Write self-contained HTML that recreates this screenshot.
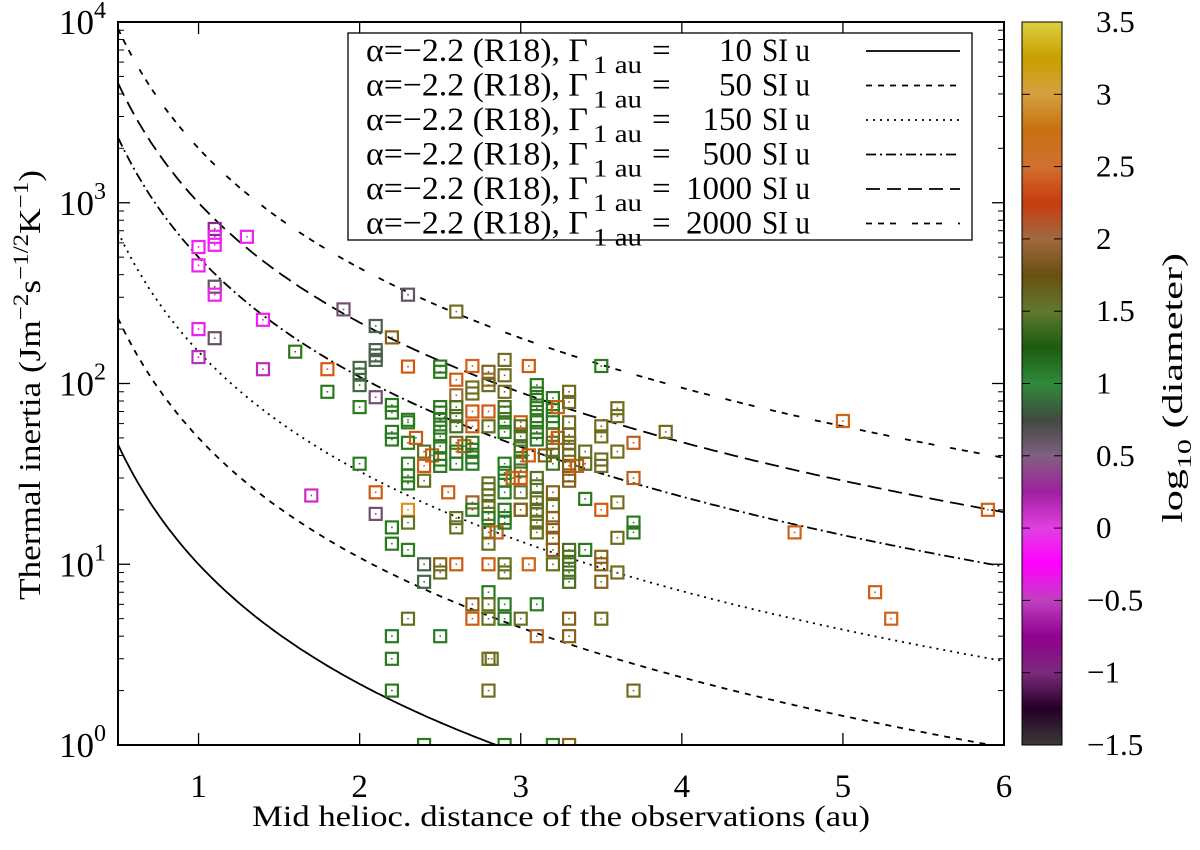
<!DOCTYPE html>
<html><head><meta charset="utf-8"><style>
html,body{margin:0;padding:0;background:#fff;}
svg{display:block;}
svg text{font-family:"Liberation Serif","DejaVu Serif",serif;}
</style></head><body>
<svg id="chart" width="1200" height="850" viewBox="0 0 1200 850" xmlns="http://www.w3.org/2000/svg" font-family="Liberation Serif, serif">
<defs>
<clipPath id="plotclip"><rect x="118" y="22" width="886" height="723"/></clipPath>
<linearGradient id="cbgrad" x1="0" y1="1" x2="0" y2="0"></linearGradient>
</defs>
<g id="curves" clip-path="url(#plotclip)"></g>
<g id="points" clip-path="url(#plotclip)"></g>
<g id="axes"></g>
<g id="legend"></g>
<g id="colorbar"></g>
<text font-family="Liberation Serif, serif" transform="translate(40,385) rotate(-90)" text-anchor="middle" font-size="31" textLength="430" lengthAdjust="spacingAndGlyphs">Thermal inertia (Jm<tspan dy="-12" font-size="22">−2</tspan><tspan dy="12">s</tspan><tspan dy="-12" font-size="22">−1/2</tspan><tspan dy="12">K</tspan><tspan dy="-12" font-size="22">−1</tspan><tspan dy="12">)</tspan></text>
<text font-family="Liberation Serif, serif" x="252" y="826" font-size="30" textLength="618" lengthAdjust="spacingAndGlyphs">Mid helioc. distance of the observations (au)</text>
<text font-family="Liberation Serif, serif" transform="translate(1182,388) rotate(-90)" text-anchor="middle" font-size="28" textLength="270" lengthAdjust="spacingAndGlyphs">log<tspan dy="9" font-size="20">10</tspan><tspan dy="-9"> (diameter)</tspan></text>
</svg>
<script>
// ---- data ----
const distGroups = [1.0,1.1,1.3,1.4,1.6,1.7,1.8,1.9,2.0,2.1,2.2,2.3,2.35,2.4,2.45,2.5,2.55,2.6,2.65,2.7,2.8,2.82,2.85,2.9,2.95,3.0,3.05,3.1,3.15,3.2,3.23,3.3,3.35,3.4,3.5,3.6,3.7,3.9,4.7,5.0,5.2,5.3,5.9];
const inertiaGroups = [
[569,450,200,140],[716,648,585,343,310,178],[648],[225,120],[150],[24],[120,90],[257],
[122,112,98,74,36],[208,153,143,135,84,25,19],[180,76,69,54,49,16,13,4,3,2],
[310,124,63,61,47,36,31,28,20,17,12,5],[50],[42,35,29,10,8,1],[40],
[124,116,74,69,63,57,51,45,38,35,10,9,4],[25],[250,105,86,74,66,58,47,42,36,18,16,10],[45],
[125,95,88,70,58,47,43,39,36,22,20,6,5],
[116,105,98,70,58,28,26,24,21,19,18,15,13,10,7,6,5,3,2],[3],[15],
[135,111,90,74,69,61,54,36,32,29,25,20,18,17,10,9,6,5,1],[30],
[61,58,51,45,42,37,33,30,25,20,20,5],[125,40,10],
[98,88,81,73,66,61,54,49,30,27,23,20,22,19,17,15,6,4],[40],
[83,74,66,61,52,47,43,36,25,21,18,16,14,12,10,1],[74,50],
[90,79,61,52,47,43,40,35,31,29,12,11,10,9,8,5,4,1],[35],[42,36,23,12],
[125,58,51,38,35,20,11,10,8,5],[73,66,42,22,14,9],[47,30,17,15,2],[54],[15],[62],[7],[5],[20]];
const diamGroups = [
[0,0,0,-0.4],[-0.8,0,0,0.6,0,0.6],[0],[0,-0.4],[1.1],[-0.3],[2.3,1.05],[0.5],
[0.9,0.9,0.9,1.05,1.05],[0.8,0.8,0.8,0.8,0.5,2.3,0.5],[1.8,1.05,1.05,1.05,1.05,1.05,1.05,1.05,1.05,1.05],
[0.6,2.3,1.05,1.05,1.05,1.05,1.05,1.05,2.8,1.5,1.05,1.5],[2.3],[1.5,2.3,1.5,0.8,0.9,1.05],[2.3],
[1.05,1.05,1.05,1.05,1.05,1.05,1.05,1.05,1.05,1.05,1.8,1.5,1.05],[2.3],[1.6,2.3,2.0,1.3,1.3,1.3,1.5,1.05,1.05,1.5,1.5,2.3],[2.3],
[2.4,1.6,1.6,2.3,2.3,1.05,1.05,1.05,1.05,1.9,1.05,1.8,2.3],
[1.7,2.0,1.6,2.3,1.5,1.5,1.5,1.5,1.5,1.5,1.05,1.5,1.5,2.3,1.05,1.5,1.5,1.6,1.6],[1.6],[2.3],
[1.6,1.6,1.6,1.3,1.2,1.05,1.05,1.05,1.05,1.05,1.05,1.05,1.05,1.05,1.5,1.5,1.05,1.05,1.05],[2.4],
[2.3,1.3,1.3,1.3,1.3,1.3,1.3,2.3,1.5,1.5,1.8,1.5],[2.3,2.3,2.4],
[1.1,1.1,1.1,1.1,1.1,1.1,1.1,1.1,1.4,1.4,1.4,1.4,1.5,1.5,1.5,1.5,1.05,2.1],[1.8],
[1.05,1.05,1.05,1.05,1.5,1.5,1.5,1.2,1.8,1.5,1.8,1.8,1.8,1.8,1.5,1.05],[2.3,2.3],
[1.6,1.6,1.6,1.6,1.6,1.6,1.6,1.8,1.8,1.8,1.3,1.3,1.3,1.3,1.3,1.8,1.8,1.8],[2.3],[1.5,1.5,1.05,1.05],
[1.05,1.6,1.6,1.6,1.6,2.3,1.8,1.8,1.8,1.6],[1.6,1.6,1.6,1.6,1.6,1.6],[2.2,2.2,1.05,1.05,1.6],[1.6],[2.4],[2.4],[2.4],[2.4],[2.4]];
const gammaValues = [10,50,150,500,1000,2000];
const gammaLabels = ["10","50","150","500","1000","2000"];
const alphaExp = -2.2;
const xTicks = [1,2,3,4,5,6];
const yDecades = [0,1,2,3,4];
const cbTicks = [-1.5,-1,-0.5,0,0.5,1,1.5,2,2.5,3,3.5];

// ---- scales ----
const X0=118,X1=1004,Y0=745,Y1=22;
const xs = r => X0 + (r-0.5)/(6-0.5)*(X1-X0);
const ys = v => Y0 - (Math.log10(v)-0)/4*(Y0-Y1);
const CB0=745,CB1=22,cmin=-1.5,cmax=3.5;
const cs = v => CB0 - (v-cmin)/(cmax-cmin)*(CB0-CB1);
const NS="http://www.w3.org/2000/svg";
const FF="Liberation Serif, serif";
function mk(tag, attrs, parent){const e=document.createElementNS(NS,tag);for(const k in attrs)e.setAttribute(k,attrs[k]);if(tag==='text')e.setAttribute('font-family',FF);parent.appendChild(e);return e;}

const pal=[[-1.5,"#3a3a3a"],[-1.25,"#240024"],[-1.0,"#7a2a7a"],[-0.75,"#900090"],[-0.5,"#c040c0"],[-0.25,"#ff00ff"],[0,"#e040e0"],[0.25,"#a020a0"],[0.5,"#806080"],[0.75,"#404a40"],[1.0,"#2f8a3a"],[1.25,"#1c5c10"],[1.5,"#607830"],[1.75,"#6a5010"],[2.0,"#a06a40"],[2.25,"#c83c10"],[2.5,"#d07030"],[2.75,"#c87010"],[3.0,"#d4a040"],[3.25,"#c8a000"],[3.5,"#dcd040"]];
const ptPal=[[-1,"#702070"],[-0.5,"#b030b0"],[0,"#f020f0"],[0.3,"#a040a0"],[0.5,"#705070"],[0.7,"#555555"],[0.9,"#3d6a40"],[1.05,"#2a7a20"],[1.3,"#4a7020"],[1.55,"#6a7020"],[1.8,"#8a6018"],[2.0,"#a06a30"],[2.3,"#d05a10"],[2.6,"#d07020"],[2.8,"#e09020"]];
function hex2(c){return [1,3,5].map(i=>parseInt(c.substr(i,2),16));}
function colorAt(p,v){if(v<=p[0][0])return p[0][1];for(let i=1;i<p.length;i++){if(v<=p[i][0]){const t=(v-p[i-1][0])/(p[i][0]-p[i-1][0]);const a=hex2(p[i-1][1]),b=hex2(p[i][1]);return "rgb("+a.map((x,j)=>Math.round(x+(b[j]-x)*t)).join(",")+")";}}return p[p.length-1][1];}

// ---- curves ----
const dashes=["", "6,6", "2,5", "10,4,2,4", "14,7", "6,6,6,6,6,16"];
const curves=document.getElementById('curves');
gammaValues.forEach((g,i)=>{
  let d="";
  for(let r=0.5;r<=6.0001;r+=0.02){const v=g*Math.pow(r,alphaExp);d+=(d?"L":"M")+xs(r).toFixed(1)+","+ys(v).toFixed(1);}
  const p=mk('path',{d:d,fill:"none",stroke:"#000","stroke-width":"1.8","stroke-dasharray":dashes[i]},curves);
  
  
});

// ---- points ----
const pts=document.getElementById('points');
distGroups.forEach((r,gi)=>{
  inertiaGroups[gi].forEach((v,k)=>{
    const c=colorAt(ptPal,diamGroups[gi][k]);
    const x=xs(r),y=ys(v);
    const s=mk('rect',{x:(x-6).toFixed(1),y:(y-6).toFixed(1),width:12,height:12,fill:"none",stroke:c,"stroke-width":"2.2"},pts);
    
    
    mk('rect',{x:(x-0.8).toFixed(1),y:(y-0.8).toFixed(1),width:1.6,height:1.6,fill:c},pts);
  });
});

// ---- axes ----
const ax=document.getElementById('axes');
const frame=mk('rect',{x:X0,y:Y1,width:X1-X0,height:Y0-Y1,fill:"none",stroke:"#000","stroke-width":"2"},ax);


xTicks.forEach(t=>{
  const x=xs(t);
  if(t<6){mk('line',{x1:x,y1:Y0,x2:x,y2:Y0-12,stroke:"#000","stroke-width":"1.3"},ax);
  mk('line',{x1:x,y1:Y1,x2:x,y2:Y1+12,stroke:"#000","stroke-width":"1.3"},ax);}
  const tl=mk('text',{x:x,y:797,"text-anchor":"middle","font-size":"33"},ax);
  tl.textContent=String(t);
  
  
});
yDecades.forEach(d=>{
  const y=ys(Math.pow(10,d));
  mk('line',{x1:X0,y1:y,x2:X0+12,y2:y,stroke:"#000","stroke-width":"1.3"},ax);
  mk('line',{x1:X1,y1:y,x2:X1-12,y2:y,stroke:"#000","stroke-width":"1.3"},ax);
  const tl=mk('text',{x:106,y:y+12,"text-anchor":"end","font-size":"35"},ax);
  tl.innerHTML='10<tspan dy="-16" font-size="24">'+d+'</tspan>';
  
  
  if(d<4){for(let k=2;k<=9;k++){const yy=ys(k*Math.pow(10,d));
    mk('line',{x1:X0,y1:yy,x2:X0+6,y2:yy,stroke:"#000","stroke-width":"1"},ax);
    mk('line',{x1:X1,y1:yy,x2:X1-6,y2:yy,stroke:"#000","stroke-width":"1"},ax);}}
});

// ---- legend ----
const lg=document.getElementById('legend');
const lbox=mk('rect',{x:348,y:33,width:624,height:207,fill:"#fff",stroke:"#000","stroke-width":"1.3"},lg);


gammaValues.forEach((g,i)=>{
  const by=61+i*34.5;
  const t=mk('text',{x:366,y:by,"font-size":"33",textLength:"222",lengthAdjust:"spacingAndGlyphs"},lg);
  t.textContent='α=−2.2 (R18), Γ';
  
  
  const sb=mk('text',{x:593,y:by+12,"font-size":"25",textLength:"49",lengthAdjust:"spacingAndGlyphs"},lg); sb.textContent="1 au";
  const eq=mk('text',{x:652,y:by,"font-size":"33"},lg); eq.textContent="=";
  const num=mk('text',{x:752,y:by,"font-size":"33","text-anchor":"end"},lg); num.textContent=gammaLabels[i];
  const su=mk('text',{x:762,y:by,"font-size":"33",textLength:"48",lengthAdjust:"spacingAndGlyphs"},lg); su.textContent="SI u";
  const ln=mk('line',{x1:866,y1:by-10,x2:960,y2:by-10,stroke:"#000","stroke-width":"1.8","stroke-dasharray":dashes[i]},lg);
  
  
});

// ---- colorbar ----
const grad=document.getElementById('cbgrad');
pal.forEach(s=>{mk('stop',{offset:((s[0]-cmin)/(cmax-cmin)*100).toFixed(1)+"%","stop-color":s[1]},grad);});
const cb=document.getElementById('colorbar');
const cbr=mk('rect',{x:1022,y:CB1,width:40,height:CB0-CB1,fill:"url(#cbgrad)",stroke:"#000","stroke-width":"1"},cb);


cbTicks.forEach(t=>{
  const y=cs(t);
  mk('line',{x1:1022,y1:y,x2:1030,y2:y,stroke:"#000","stroke-width":"1"},cb);
  mk('line',{x1:1062,y1:y,x2:1054,y2:y,stroke:"#000","stroke-width":"1"},cb);
  const tl=mk('text',{x:t<0?1087:1096,y:y+10,"font-size":"31"},cb);
  tl.textContent=(t<0?"−":"")+String(Math.abs(t));
  
  
});
</script>
</body></html>
